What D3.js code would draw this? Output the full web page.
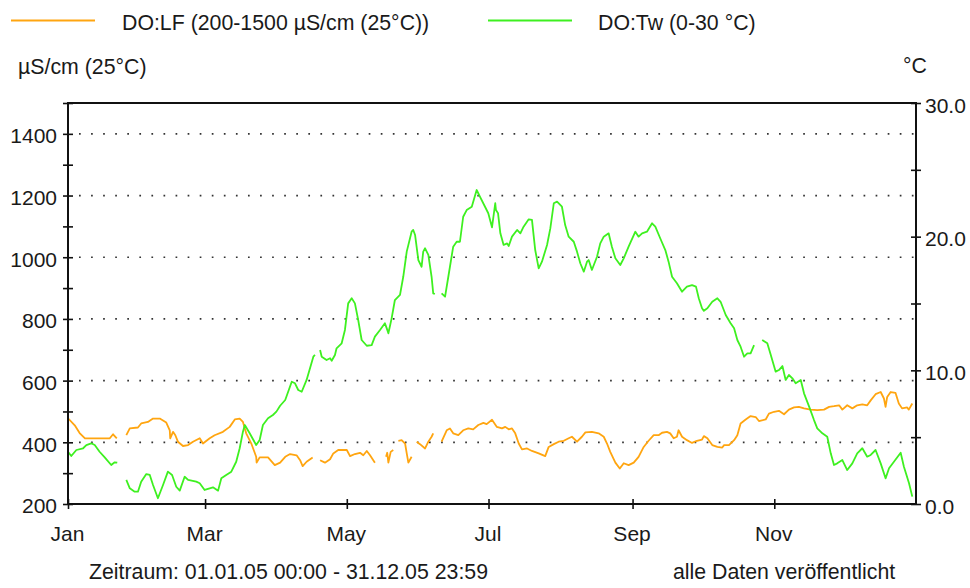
<!DOCTYPE html>
<html><head><meta charset="utf-8">
<script src="https://cdn.jsdelivr.net/npm/d3@7"></script>
<style>
body{margin:0;background:#fff}
svg{display:block}
text{font-family:"Liberation Sans",Arial,sans-serif;font-size:21.3px;fill:#1a1a1a}
</style>
</head><body>
<svg id="c" width="970" height="588"></svg>
<script>
// ---- data: [day of year 2005 (0 = 1 Jan), value]; null = gap ----
const lfSeries = [
[0,478],[2.9,455],[5,430],[7.3,413],[11.6,413],[18,413],[19.4,426],[21,413],[23,null],
[25.1,423],[26.6,445],[30.1,448],[31.5,461],[34.4,466],[36.6,477],[39.5,477],[42.3,464],[43.8,439],[44,413],[45.2,434],[46.2,423],[47.3,402],[49.5,388],[51.7,391],[53.8,402],[56.7,413],[58.1,396],[61,413],[63.1,423],[66.7,434],[69.6,450],[71.8,474],[73.9,477],[75.3,466],[76.7,429],[78.9,396],[81,353],[81.2,334],[82.5,351],[86.1,351],[89,326],[91.3,334],[93.5,353],[95.6,362],[98.4,358],[99.9,342],[101,323],[102.7,337],[105.3,351],[107,null],
[108.5,342],[110.6,334],[112.8,345],[114.2,364],[116.3,375],[120,375],[121.4,355],[123.5,362],[125.7,366],[127.1,358],[128.6,372],[130,358],[132.1,334],[134,null],
[136.9,353],[137.4,366],[137.9,334],[138.9,369],[140,375],[141,null],
[142.2,405],[143.6,407],[145.1,396],[145.8,364],[146.5,334],[147.9,353],[149,null],
[150.1,402],[151.5,394],[153.7,380],[155.1,402],[156.5,418],[157.2,429],[159,null],
[160.8,402],[163,439],[164.4,445],[165.8,429],[168,423],[170.1,439],[172.3,445],[174.4,442],[176.6,456],[178.8,463],[180.2,459],[182.5,473],[184.6,450],[186.8,445],[188.2,450],[189.7,442],[191.1,445],[192.5,429],[194,396],[195.4,377],[197.6,380],[199.7,372],[202.6,364],[205.4,355],[206.9,385],[209.1,394],[211.2,402],[213.4,405],[215.5,413],[216.9,418],[219.1,402],[221.2,418],[222.7,432],[225.5,434],[228.4,429],[230.6,418],[232,396],[233.4,369],[235.6,334],[237.5,315],[239.2,332],[241.3,326],[243.5,334],[245.6,353],[247.8,385],[249.9,405],[252.1,423],[254.2,423],[255.7,431],[257.8,434],[259.2,429],[260.7,413],[262.1,418],[262.8,439],[264.3,418],[266.4,407],[268.6,398],[270.7,405],[272.9,409],[273.7,420],[275.2,413],[277.3,391],[279.5,385],[281.6,383],[282.4,391],[284.5,391],[286.7,407],[288.1,423],[289.5,461],[291.7,474],[293.8,485],[296,482],[297.4,469],[300.3,474],[301.7,493],[303.9,499],[306,502],[308.2,491],[310.3,506],[312.5,513],[314.6,515],[316.8,510],[319.7,506],[322.5,504],[325.4,506],[327.6,515],[329.7,517],[331.9,520],[333.3,506],[335.4,520],[337.6,510],[339.7,520],[341.9,523],[344,520],[345.5,536],[347.6,556],[349.8,563],[351.2,542],[351.9,515],[352.6,547],[354.1,563],[356.2,560],[357.6,526],[359,510],[361.2,513],[361.9,506],[363.4,526]
];
const twSeries = [
[0,3.91],[1.4,3.59],[3.6,4.04],[6.5,4.17],[7.9,4.41],[10,4.54],[11.5,4.41],[13.6,3.91],[15.8,3.49],[18.6,2.92],[20.1,3.12],[21.2,3.09],[23,null],
[25.1,1.80],[26.6,1.17],[28.7,0.92],[30.1,0.92],[31.5,1.67],[33.7,2.24],[35.2,2.17],[36.6,1.42],[38.7,0.43],[40.9,1.42],[43,2.42],[44.8,2.17],[46.6,1.29],[48.1,1.00],[50.2,2.04],[51.7,1.80],[55.2,1.67],[56.7,1.55],[58.8,1.05],[61,1.17],[62.4,1.25],[64.6,1.00],[66,1.92],[68.1,2.17],[70.3,2.42],[72.4,3.16],[73.9,4.17],[75.3,5.41],[76.1,5.91],[78.2,5.29],[81,4.41],[82.5,4.79],[83.9,5.91],[86.1,6.41],[88.2,6.66],[89.7,6.91],[91.3,7.35],[93.5,7.78],[96.3,9.15],[97.7,9.03],[99.1,8.53],[100.6,8.40],[102.7,9.28],[105.6,11.02],[106.3,11.15],[107.4,null],
[108.5,11.52],[109.2,11.02],[111.3,10.77],[112.8,10.90],[113.5,10.72],[114.9,11.15],[115.6,11.65],[117.8,12.02],[119.2,13.02],[120.6,15.01],[122.1,15.39],[123.5,15.01],[124.9,13.77],[126.4,12.27],[128.6,11.84],[130.7,11.89],[132.1,12.52],[134.3,13.02],[136.4,13.52],[137.2,13.14],[137.9,12.77],[139.3,13.89],[140.7,15.26],[142.9,15.64],[144.3,17.00],[145.8,18.88],[147.9,20.37],[148.6,20.50],[149.4,20.12],[150.8,18.25],[152.2,17.75],[152.9,18.88],[153.7,19.13],[155.1,18.63],[156.5,17.00],[157.2,15.76],[157.9,15.71],[159,null],
[160.8,15.76],[162.3,15.51],[163.7,17.00],[165.8,19.25],[167.3,19.62],[168.7,19.62],[170.1,21.49],[171.6,21.99],[173.8,22.24],[175.9,23.49],[177.3,22.99],[179.5,22.24],[180.9,21.75],[182.5,20.7],[183.9,22.50],[184.2,21.99],[185.1,21.75],[186.1,20.25],[187.5,19.38],[189,19.50],[189.7,19.30],[191.1,20.00],[193.3,20.50],[194.7,20.25],[196.1,20.75],[198.3,21.30],[199.7,21.25],[201.1,19.00],[202.6,17.63],[204,18.13],[206.2,19.38],[207.6,20.62],[209.1,22.50],[210.5,22.62],[212.6,22.24],[214,20.87],[215.5,20.00],[217.7,19.62],[219.1,18.88],[220.5,18.01],[222,17.38],[223.4,18.13],[224.1,18.25],[225.5,17.51],[227.7,18.50],[229.1,19.50],[230.6,20.00],[232.7,20.25],[234.1,19.25],[235.6,18.38],[237.7,17.88],[239.2,18.38],[241.3,19.25],[244.2,20.37],[245.6,20.00],[247.1,20.25],[249.2,20.37],[251.4,21.00],[252.8,20.75],[254.9,19.88],[257.1,19.00],[258.5,18.13],[260,17.00],[262.1,16.51],[264.3,15.88],[266.4,16.26],[268.6,16.38],[270.3,16.26],[271.5,15.39],[272.9,14.64],[273.7,14.45],[275.2,14.64],[277.3,15.13],[279.5,15.39],[280.9,15.13],[283.1,14.14],[285.2,13.52],[286.7,13.14],[288.1,12.27],[289.5,11.77],[291,11.02],[292.4,11.27],[293.8,11.27],[295.3,11.89],[297,null],
[298.8,12.27],[301,12.02],[302.5,11.15],[304.6,9.90],[306,10.02],[307.5,10.32],[308.9,9.28],[310.3,9.65],[311.8,9.40],[313.2,9.03],[315.4,9.28],[316.8,8.28],[319,7.28],[321.1,6.28],[322.5,5.66],[324.7,5.29],[326.8,5.03],[328.3,3.79],[329.7,2.92],[331.1,3.04],[333.3,3.29],[335.4,2.54],[337.6,3.04],[339.7,3.79],[341.9,4.17],[344,3.54],[345.5,3.67],[347.6,4.04],[349.8,3.04],[351.9,1.92],[353.4,2.67],[355.5,3.16],[358.4,3.84],[359.8,2.79],[362,1.55],[363.4,0.55]
];
const leftTicks = [200,300,400,500,600,700,800,900,1000,1100,1200,1300,1400,1500];
const leftLabels = [200,400,600,800,1000,1200,1400];
const rightTicks = [0,5,10,15,20,25,30];
const rightLabels = [0,10,20,30];
const monthTicks = ["2005-01-01","2005-03-01","2005-05-01","2005-07-01","2005-09-01","2005-11-01"];
const legendNames = ["DO:LF (200-1500 µS/cm (25°C))","DO:Tw (0-30 °C)"];
const colors = ["#ffa510","#3ef020"];

// ---- layout ----
const L = 68, R = 916, T = 103, B = 504;
const svg = d3.select("#c");
const t0 = Date.UTC(2005,0,1);
const toDate = d => new Date(t0 + d*864e5);
const x = d3.scaleUtc().domain([new Date(t0), new Date(Date.UTC(2006,0,1))]).range([L,R]);
const yL = d3.scaleLinear().domain([200,1500]).range([B,T]);
const yR = d3.scaleLinear().domain([0,30]).range([B,T]);

// gridlines
svg.append("g").selectAll("line").data(leftLabels.filter(v=>v>200)).join("line")
  .attr("x1",L+11).attr("x2",R).attr("y1",d=>yL(d)).attr("y2",d=>yL(d))
  .attr("stroke","#333").attr("stroke-width",1.7).attr("stroke-dasharray","1.7,10.37");

// lines
const lineL = d3.line().defined(d=>d[1]!==null).x(d=>x(toDate(d[0]))).y(d=>yL(d[1]));
const lineR = d3.line().defined(d=>d[1]!==null).x(d=>x(toDate(d[0]))).y(d=>yR(d[1]));
svg.append("path").datum(lfSeries).attr("d",lineL).attr("fill","none").attr("stroke",colors[0]).attr("stroke-width",1.8).attr("stroke-linejoin","round");
svg.append("path").datum(twSeries).attr("d",lineR).attr("fill","none").attr("stroke",colors[1]).attr("stroke-width",1.8).attr("stroke-linejoin","round");

// frame
svg.append("rect").attr("x",L).attr("y",T).attr("width",R-L).attr("height",B-T)
  .attr("fill","none").attr("stroke","#111").attr("stroke-width",2);

// axes
const gl = svg.append("g").attr("transform",`translate(${L},0)`)
  .call(d3.axisLeft(yL).tickValues(leftTicks).tickSize(5).tickPadding(6)
    .tickFormat(d => leftLabels.includes(d) ? d : ""));
gl.select(".domain").remove();
gl.selectAll(".tick line").attr("x1",5).attr("stroke","#111").attr("stroke-width",1.6);
gl.selectAll(".tick text").attr("dy","0.42em").style("font-size","21px").style("font-family","'Liberation Sans',Arial,sans-serif").attr("fill","#1a1a1a");

const gr = svg.append("g").attr("transform",`translate(${R},0)`)
  .call(d3.axisRight(yR).tickValues(rightTicks).tickSize(5).tickPadding(4)
    .tickFormat(d => rightLabels.includes(d) ? d.toFixed(1) : ""));
gr.select(".domain").remove();
gr.selectAll(".tick line").attr("x1",-5).attr("stroke","#111").attr("stroke-width",1.6);
gr.selectAll(".tick text").attr("dy","0.44em").style("font-size","21px").style("font-family","'Liberation Sans',Arial,sans-serif").attr("fill","#1a1a1a");

const gb = svg.append("g").attr("transform",`translate(0,${B})`)
  .call(d3.axisBottom(x).tickValues(monthTicks.map(s=>new Date(s+"T00:00:00Z"))).tickSize(5).tickPadding(17)
    .tickFormat(d3.utcFormat("%b")));
gb.select(".domain").remove();
gb.selectAll(".tick line").attr("y1",-5).attr("stroke","#111").attr("stroke-width",1.6);
gb.selectAll(".tick text").attr("dx","-1").style("font-size","21px").style("font-family","'Liberation Sans',Arial,sans-serif").attr("fill","#1a1a1a");

// legend
const leg = [{x1:11,x2:95,tx:122},{x1:488,x2:572,tx:598}];
leg.forEach((p,i)=>{
  svg.append("line").attr("x1",p.x1).attr("x2",p.x2).attr("y1",20.5).attr("y2",20.5)
    .attr("stroke",colors[i]).attr("stroke-width",2);
  svg.append("text").attr("x",p.tx).attr("y",30).text(legendNames[i]);
});

// unit labels
svg.append("text").attr("x",18).attr("y",74).text("µS/cm (25°C)");
svg.append("text").attr("x",903).attr("y",73).text("°C");

// footer
svg.append("text").attr("x",89).attr("y",579).text("Zeitraum: 01.01.05 00:00 - 31.12.05 23:59");
svg.append("text").attr("x",673).attr("y",579).text("alle Daten veröffentlicht");
</script>
</body></html>
